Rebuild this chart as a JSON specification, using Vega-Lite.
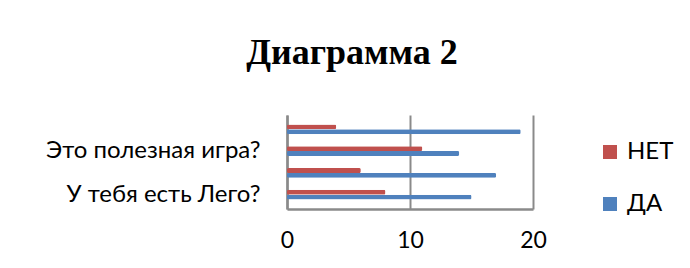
{
  "$schema": "https://vega.github.io/schema/vega-lite/v6.json",
  "autosize": {"type": "none"},
  "width": 246,
  "height": 94,
  "padding": {"left": 287, "top": 115, "right": 157, "bottom": 59},
  "background": "white",
  "title": {
    "text": "Диаграмма 2",
    "font": "Liberation Serif",
    "fontSize": 36,
    "fontWeight": "bold",
    "color": "#000000",
    "anchor": "middle",
    "dx": -58,
    "offset": 43
  },
  "data": {
    "values": [
      {"q": "Вопрос 4", "answer": "НЕТ", "count": 4, "ord": 1},
      {"q": "Вопрос 4", "answer": "ДА", "count": 19, "ord": 1},
      {"q": "Это полезная игра?", "answer": "НЕТ", "count": 11, "ord": 2},
      {"q": "Это полезная игра?", "answer": "ДА", "count": 14, "ord": 2},
      {"q": "Вопрос 2", "answer": "НЕТ", "count": 6, "ord": 3},
      {"q": "Вопрос 2", "answer": "ДА", "count": 17, "ord": 3},
      {"q": "У тебя есть Лего?", "answer": "НЕТ", "count": 8, "ord": 4},
      {"q": "У тебя есть Лего?", "answer": "ДА", "count": 15, "ord": 4}
    ]
  },
  "mark": {"type": "bar", "cornerRadius": 1.5},
  "encoding": {
    "y": {
      "field": "q",
      "type": "nominal",
      "sort": {"field": "ord", "op": "min"},
      "scale": {"paddingInner": 0.55, "paddingOuter": 0.43},
      "axis": {
        "title": null,
        "values": ["Это полезная игра?", "У тебя есть Лего?"],
        "ticks": false,
        "labelFont": "Lato",
        "labelFontSize": 24,
        "labelLimit": 0,
        "labelColor": "#000000",
        "labelPadding": 27,
        "domainColor": "#8a8a8a",
        "domainWidth": 2.5
      }
    },
    "x": {
      "field": "count",
      "type": "quantitative",
      "scale": {"domain": [0, 20]},
      "axis": {
        "title": null,
        "values": [0, 10, 20],
        "ticks": false,
        "grid": true,
        "gridColor": "#8a8a8a",
        "gridWidth": 2,
        "labelFont": "Lato",
        "labelFontSize": 23,
        "labelFlush": false,
        "labelDx": -4,
        "labelColor": "#000000",
        "labelPadding": 20,
        "domainColor": "#8a8a8a",
        "domainWidth": 2.5
      }
    },
    "yOffset": {
      "field": "answer",
      "sort": ["НЕТ", "ДА"],
      "scale": {"paddingInner": 0}
    },
    "color": {
      "field": "answer",
      "type": "nominal",
      "scale": {"domain": ["НЕТ", "ДА"], "range": ["#C0504D", "#4F81BD"]},
      "legend": {
        "title": null,
        "orient": "none",
        "legendX": 311,
        "legendY": 25,
        "symbolType": "square",
        "symbolSize": 196,
        "symbolStrokeWidth": 0,
        "symbolOpacity": 1,
        "labelFont": "Lato",
        "labelFontSize": 24,
        "labelLimit": 0,
        "labelColor": "#000000",
        "rowPadding": 28,
        "labelOffset": 5
      }
    }
  },
  "config": {
    "view": {"stroke": null}
  }
}
